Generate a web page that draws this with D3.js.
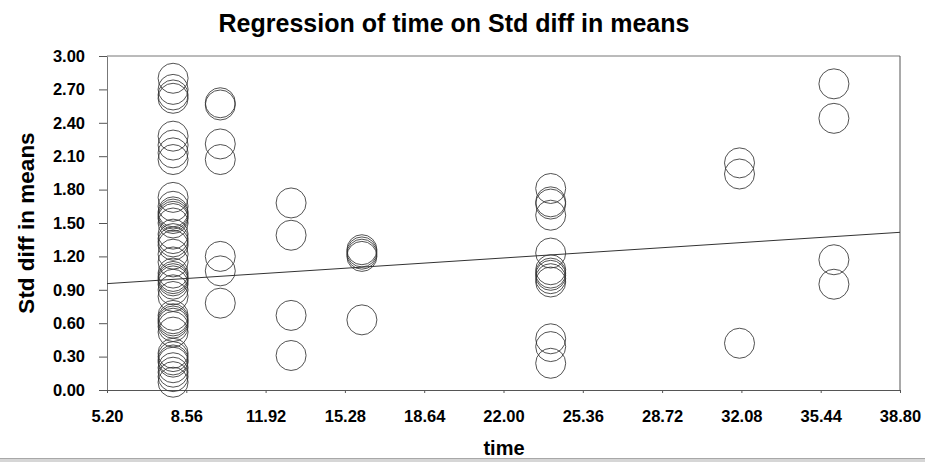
<!DOCTYPE html>
<html>
<head>
<meta charset="utf-8">
<script src="https://cdn.jsdelivr.net/npm/d3@7"></script>
<style>
  html, body { margin: 0; padding: 0; background: #ffffff; }
  svg { display: block; }
  text { font-family: "Liberation Sans", Arial, sans-serif; font-weight: bold; fill: #000; }
</style>
</head>
<body>
<svg id="chart" width="925" height="462"></svg>
<script>
// ---- data ----
const chartTitle = "Regression of time on Std diff in means";
const xTitle = "time";
const yTitle = "Std diff in means";

const xTicks = [5.20, 8.56, 11.92, 15.28, 18.64, 22.00, 25.36, 28.72, 32.08, 35.44, 38.80];
const yTicks = [0.00, 0.30, 0.60, 0.90, 1.20, 1.50, 1.80, 2.10, 2.40, 2.70, 3.00];

const columnTimes = [8, 10, 13, 16, 24, 32, 36];
const valuesAt8  = [2.80, 2.70, 2.65, 2.62, 2.28, 2.20, 2.13, 2.07, 1.73, 1.65, 1.60, 1.58, 1.56, 1.54,
                    1.50, 1.40, 1.36, 1.33, 1.30, 1.22, 1.15, 1.05, 1.02, 1.00, 0.98, 0.95, 0.90, 0.84, 0.67,
                    0.64, 0.62, 0.60, 0.57, 0.52, 0.33, 0.30, 0.27, 0.25, 0.20, 0.16, 0.12, 0.07];
const valuesAt10 = [2.58, 2.56, 2.21, 2.07, 1.20, 1.07, 0.78];
const valuesAt13 = [1.68, 1.39, 0.67, 0.31];
const valuesAt16 = [1.26, 1.24, 1.22, 1.20, 0.63];
const valuesAt24 = [1.81, 1.69, 1.67, 1.57, 1.23, 1.08, 1.05, 1.03, 1.00, 0.97, 0.46, 0.39, 0.24];
const valuesAt32 = [2.04, 1.94, 0.42];
const valuesAt36 = [2.75, 2.44, 1.17, 0.95];
const columnValues = [valuesAt8, valuesAt10, valuesAt13, valuesAt16, valuesAt24, valuesAt32, valuesAt36];

const regIntercept = 0.884;
const regSlope = 0.01372;

// ---- layout ----
const svg = d3.select("#chart");
const mLeft = 107, mRight = 900, mTop = 56, mBottom = 390;

const x = d3.scaleLinear().domain([5.20, 38.80]).range([mLeft, mRight]);
const y = d3.scaleLinear().domain([0, 3]).range([mBottom, mTop]);

const points = [];
columnTimes.forEach((t, i) => columnValues[i].forEach(v => points.push({t, v})));

// frame (top & right border)
svg.append("line").attr("x1", mLeft).attr("x2", mRight).attr("y1", mTop).attr("y2", mTop)
  .attr("stroke", "#777").attr("stroke-width", 1);
svg.append("line").attr("x1", mRight).attr("x2", mRight).attr("y1", mTop).attr("y2", mBottom)
  .attr("stroke", "#555").attr("stroke-width", 1);

// y axis
const yAxis = d3.axisLeft(y).tickValues(yTicks).tickFormat(d => d.toFixed(2))
  .tickSize(8).tickSizeOuter(0).tickPadding(14);
const gy = svg.append("g").attr("transform", `translate(${mLeft},0)`).call(yAxis);
gy.select(".domain").attr("stroke", "#777");
gy.selectAll(".tick line").attr("stroke", "#555");
gy.selectAll("text").style("font-size", "16.5px").attr("fill", "#000");

// x axis
const xAxis = d3.axisBottom(x).tickValues(xTicks).tickFormat(d => d.toFixed(2))
  .tickSize(3).tickSizeOuter(0).tickPadding(17);
const gx = svg.append("g").attr("transform", `translate(0,${mBottom})`).call(xAxis);
gx.select(".domain").attr("stroke", "#555");
gx.selectAll(".tick line").attr("stroke", "#555");
gx.selectAll("text").style("font-size", "16.5px").attr("fill", "#000");

// points
svg.append("g").selectAll("circle").data(points).join("circle")
  .attr("cx", d => x(d.t)).attr("cy", d => y(d.v)).attr("r", 15)
  .attr("fill", "none").attr("stroke", "#333").attr("stroke-width", 0.85);

// regression line
const x0 = 5.20, x1 = 38.80;
svg.append("line")
  .attr("x1", x(x0)).attr("y1", y(regIntercept + regSlope * x0))
  .attr("x2", x(x1)).attr("y2", y(regIntercept + regSlope * x1))
  .attr("stroke", "#333").attr("stroke-width", 1);

// titles
svg.append("text").attr("x", 454).attr("y", 32).attr("text-anchor", "middle")
  .style("font-size", "25px").text(chartTitle);
svg.append("text").attr("x", 504).attr("y", 455).attr("text-anchor", "middle")
  .style("font-size", "20px").text(xTitle);
svg.append("text").attr("transform", "translate(34,223) rotate(-90)").attr("text-anchor", "middle")
  .style("font-size", "22.5px").text(yTitle);

// bottom window strip
svg.append("rect").attr("x", 0).attr("y", 458).attr("width", 925).attr("height", 4).attr("fill", "#d6d6d6");
svg.append("line").attr("x1", 0).attr("x2", 925).attr("y1", 458.5).attr("y2", 458.5).attr("stroke", "#a8a8a8");
</script>
</body>
</html>
